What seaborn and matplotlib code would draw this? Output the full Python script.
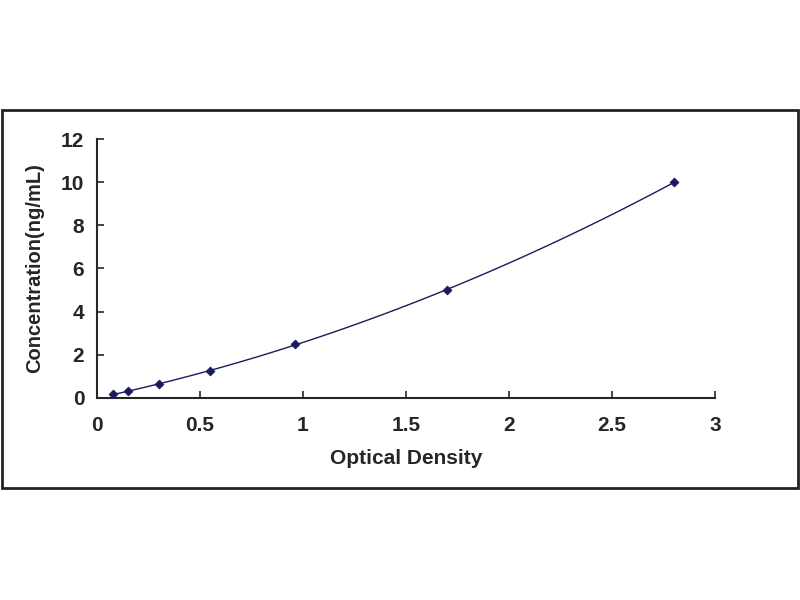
import numpy as np
import pandas as pd
import seaborn as sns
import matplotlib.pyplot as plt
from matplotlib.patches import Rectangle

# 标准曲线数据
od = [0.08, 0.15, 0.30, 0.55, 0.96, 1.70, 2.80]
conc = [0.156, 0.312, 0.625, 1.25, 2.5, 5.0, 10.0]
x_ticks = [0, 0.5, 1, 1.5, 2, 2.5, 3]
y_ticks = [0, 2, 4, 6, 8, 10, 12]

df = pd.DataFrame({'od': od, 'conc': conc})

sns.set_style('ticks')
plt.rcParams['font.family'] = ['Liberation Sans', 'DejaVu Sans']
plt.rcParams['font.weight'] = 'bold'

fig = plt.figure(figsize=(8, 6), dpi=100)
ax = fig.add_axes([0.121, 0.337, 0.773, 0.431])

# 外框
fig.patches.append(Rectangle((0.003, 0.187), 0.994, 0.63, transform=fig.transFigure,
                             fill=False, edgecolor='#222222', linewidth=2))

line_color = '#1a1a5e'
sns.regplot(x='od', y='conc', data=df, order=2, ci=None, truncate=True,
            scatter=False, ax=ax, line_kws={'color': line_color, 'linewidth': 1.0})
sns.scatterplot(x='od', y='conc', data=df, ax=ax, marker='D', s=22,
                color=line_color, edgecolor=line_color, zorder=3)

ax.set_xlim(0, 3)
ax.set_ylim(0, 12)
ax.set_xticks(x_ticks)
ax.set_xticklabels([f'{t:g}' for t in x_ticks])
ax.set_yticks(y_ticks)
ax.tick_params(direction='in', length=5, width=1.2, labelsize=15, pad=9)
ax.tick_params(axis='x', pad=13)
for lbl in ax.get_xticklabels() + ax.get_yticklabels():
    lbl.set_fontweight('bold')
for s in ['left', 'bottom']:
    ax.spines[s].set_linewidth(1.5)
sns.despine(ax=ax)

ax.set_xlabel('Optical Density', fontsize=15, fontweight='bold', labelpad=10)
ax.set_ylabel('Concentration(ng/mL)', fontsize=14.5, fontweight='bold', labelpad=12)

plt.savefig('out.png', dpi=100)
plt.close()
